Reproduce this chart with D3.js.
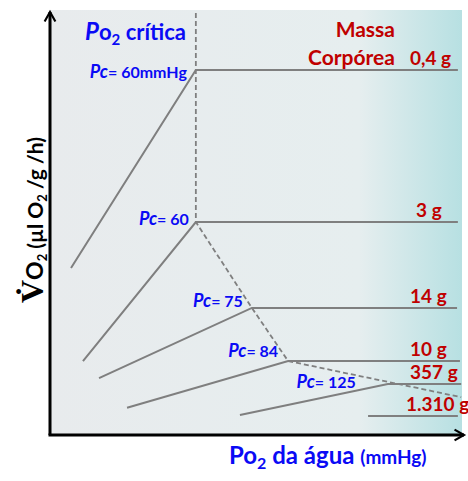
<!DOCTYPE html>
<html>
<head>
<meta charset="utf-8">
<script src="https://cdn.jsdelivr.net/npm/d3@7"></script>
<style>
  body { margin: 0; background: #fff; }
  text { font-family: Lato, "Open Sans", sans-serif; font-weight: bold; }
</style>
</head>
<body>
<div id="chart"></div>
<script>
// values, in plot units (0-100 on both axes)
const masses = ["0,4 g", "3 g", "14 g", "10 g", "357 g", "1.310 g"];
const pcValues = ["60mmHg", "60", "75", "84", "125", null];
const startX = [5.1, 8.0, 11.9, 18.7, 46.1, 77.2];
const startY = [39.3, 17.4, 13.4, 6.4, 4.7, 4.5];
const kneeX = [35.4, 35.4, 49.0, 57.8, 82.0, null];
const plateauY = [85.9, 50.1, 29.9, 17.4, 12.0, 4.5];
const endX = [99.0, 99.0, 98.8, 99.5, 99.8, 99.0];
// dashed "critical Po2" path
const dashX = [35.4, 35.4, 35.4, 49.0, 57.8, 99.8];
const dashY = [99.3, 85.9, 50.1, 29.9, 17.4, 8.9];

const width = 468, height = 481;
const margin = { top: 10, right: 6, bottom: 46, left: 50 };

const svg = d3.select("#chart").append("svg")
    .attr("width", width)
    .attr("height", height);

const x = d3.scaleLinear().domain([0, 100]).range([margin.left, width - margin.right]);
const y = d3.scaleLinear().domain([0, 100]).range([height - margin.bottom, margin.top]);

// background gradient
const defs = svg.append("defs");
const grad = defs.append("linearGradient").attr("id", "bg")
    .attr("x1", "0%").attr("x2", "100%").attr("y1", "0%").attr("y2", "0%");
grad.append("stop").attr("offset", "0%").attr("stop-color", "#e8ebed");
grad.append("stop").attr("offset", "75%").attr("stop-color", "#e6eeef");
grad.append("stop").attr("offset", "100%").attr("stop-color", "#b7e0e2");

const marker = defs.append("marker").attr("id", "arrow")
    .attr("viewBox", "0 0 10 10").attr("refX", 8).attr("refY", 5)
    .attr("markerWidth", 4.5).attr("markerHeight", 4.5)
    .attr("markerUnits", "strokeWidth")
    .attr("orient", "auto");
marker.append("path").attr("d", "M1,1 L8,5 L1,9").attr("fill", "none")
    .attr("stroke", "#000").attr("stroke-width", 1.6);

svg.append("rect")
    .attr("x", x(0)).attr("y", y(100))
    .attr("width", x(100) - x(0)).attr("height", y(0) - y(100))
    .attr("fill", "url(#bg)");

const grey = "#7f7f7f";

// dashed critical line
svg.append("path")
    .datum(d3.range(dashX.length))
    .attr("fill", "none")
    .attr("stroke", grey)
    .attr("stroke-width", 1.8)
    .attr("stroke-dasharray", "5,3")
    .attr("d", d3.line().x(i => x(dashX[i])).y(i => y(dashY[i])));

// one line per body mass
const line = d3.line().x(d => x(d[0])).y(d => y(d[1]));
masses.forEach((m, i) => {
    const pts = [[startX[i], startY[i]]];
    if (kneeX[i] != null) pts.push([kneeX[i], plateauY[i]]);
    pts.push([endX[i], plateauY[i]]);
    svg.append("path")
        .attr("d", line(pts))
        .attr("fill", "none")
        .attr("stroke", grey)
        .attr("stroke-width", 2);
});

// axes
svg.append("line")
    .attr("x1", x(0)).attr("y1", y(0)).attr("x2", x(0)).attr("y2", y(100) + 2)
    .attr("stroke", "#000").attr("stroke-width", 3).attr("marker-end", "url(#arrow)");
svg.append("line")
    .attr("x1", x(0) - 1.5).attr("y1", y(0)).attr("x2", x(100) + 2).attr("y2", y(0))
    .attr("stroke", "#000").attr("stroke-width", 3).attr("marker-end", "url(#arrow)");

const blue = "#0a0af5", red = "#c00000";

// Pc labels, right-aligned next to each knee
const pcOffset = [[-9, 8], [-7, 3], [-9, -1], [-10, -4], [-32, 4]];
pcValues.forEach((v, i) => {
    if (v == null) return;
    const t = svg.append("text")
        .attr("x", x(kneeX[i]) + pcOffset[i][0])
        .attr("y", y(plateauY[i]) + pcOffset[i][1])
        .attr("text-anchor", "end")
        .attr("fill", blue)
        .style("font-size", "16px");
    t.append("tspan").style("font-style", "italic").style("font-size", "18px").text("Pc");
    t.append("tspan").text("= " + v);
});

// body mass labels
const massDx = [0, 6, 0, 0, 0, -4];
masses.forEach((m, i) => {
    svg.append("text")
        .attr("x", 410 + massDx[i])
        .attr("y", y(plateauY[i]) - 5)
        .attr("fill", red)
        .style("font-size", "19px")
        .text(m);
});

svg.append("text").attr("x", 395).attr("y", 37).attr("text-anchor", "end")
    .attr("fill", red).style("font-size", "21px").text("Massa");
svg.append("text").attr("x", 395).attr("y", 65).attr("text-anchor", "end")
    .attr("fill", red).style("font-size", "21px").text("Corpórea");

// Po2 crítica title
const title = svg.append("text").attr("x", 85).attr("y", 40)
    .attr("fill", blue).style("font-size", "22px");
title.append("tspan").style("font-style", "italic").style("font-size", "24px").text("P");
title.append("tspan").text("o");
title.append("tspan").attr("dy", 5).style("font-size", "15px").text("2");
title.append("tspan").attr("dy", -5).text(" crítica");

// x axis label
const xl = svg.append("text").attr("x", 229).attr("y", 464)
    .attr("fill", blue).style("font-size", "24px");
xl.append("tspan").text("Po");
xl.append("tspan").attr("dy", 5).style("font-size", "16px").text("2");
xl.append("tspan").attr("dy", -5).text(" da água ");
xl.append("tspan").style("font-size", "19px").text("(mmHg)");

// y axis label
const yl = svg.append("text")
    .attr("transform", "translate(43,303) rotate(-90)")
    .attr("fill", "#000").style("font-size", "21px");
yl.append("tspan").style("font-family", "'Liberation Serif', serif")
    .style("font-size", "32px").text("V\u0307");
yl.append("tspan").style("font-size", "23px").text("O");
yl.append("tspan").attr("dy", 4).style("font-size", "13px").text("2");
yl.append("tspan").attr("dy", -4).text(" (µl O");
yl.append("tspan").attr("dy", 4).style("font-size", "13px").text("2");
yl.append("tspan").attr("dy", -4).text(" /g /h)");
</script>
</body>
</html>
